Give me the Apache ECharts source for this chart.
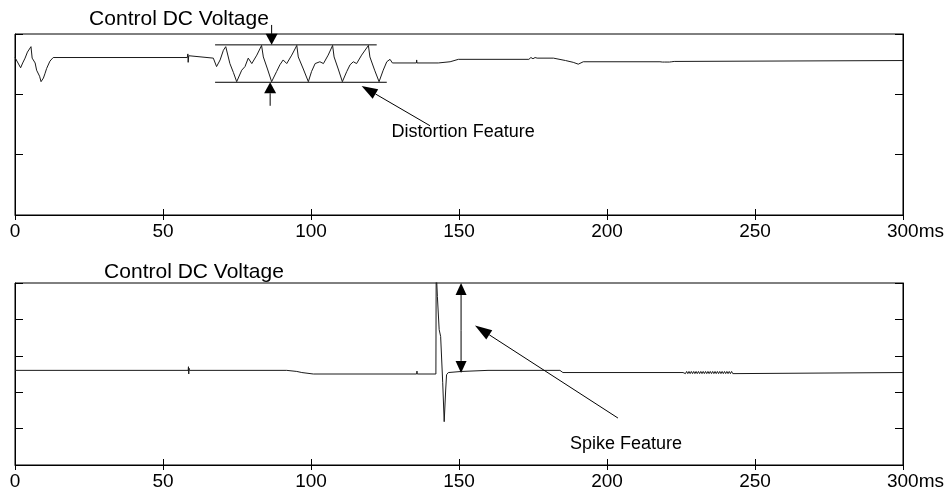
<!DOCTYPE html>
<html><head><meta charset="utf-8">
<script src="https://cdn.jsdelivr.net/npm/echarts@6/dist/echarts.min.js"></script>
<style>html,body{margin:0;padding:0;background:#fff}#c{width:947px;height:498px}</style>
</head><body><div id="c"></div>
<script>
// ---------- data ----------
const xTickLabels = ['0', '50', '100', '150', '200', '250', '300'];
const xUnit = 'ms';
const panelTitle = 'Control DC Voltage';
const topNote = 'Distortion Feature';
const bottomNote = 'Spike Feature';

const topTime = [0, 0.6, 1.9, 2.6, 3.4, 4.2, 4.8, 5.4, 5.8, 6.8, 7.3, 7.9, 8.3, 8.8, 9.6, 10.1, 10.7, 11.8, 12.9,
  58.2, 58.4, 58.5, 58.7, 58.8, 67.0,
  68.1, 69.3, 70.4, 71.2, 72.6, 73.8, 74.9,
  76.6, 77.7, 78.8, 80.0, 81.7, 83.3, 83.9, 85.3, 86.7,
  88.4, 89.5, 90.6, 91.8, 93.5, 95.2, 95.7, 97.4, 99.1,
  100.2, 101.4, 103.0, 104.2, 105.8, 107.3, 107.8, 109.2, 110.6,
  112.1, 113.2, 114.3, 115.4, 117.1, 119.4, 119.9, 121.5, 123.0,
  124.4, 125.6, 126.7, 127.5, 135.6, 135.7, 135.8, 143.0, 147.0, 149.8,
  172.3, 172.9, 173.6, 174.3, 175.0, 175.7, 176.4, 181.9, 186.0, 188.6, 190.3, 192.0,
  217.9, 218.3, 218.7, 219.1, 219.5, 219.9, 220.3, 220.7, 221.1, 221.5, 221.9, 222.3, 222.7, 223.0, 300];
const topValue = [2.61, 2.60, 2.44, 2.52, 2.60, 2.70, 2.68, 2.79, 2.60, 2.52, 2.40, 2.37, 2.30, 2.21, 2.27, 2.34, 2.43, 2.55, 2.61,
  2.61, 2.67, 2.53, 2.64, 2.61, 2.60,
  2.46, 2.57, 2.73, 2.79, 2.51, 2.36, 2.21,
  2.40, 2.46, 2.60, 2.51, 2.65, 2.81, 2.62, 2.42, 2.21,
  2.38, 2.49, 2.57, 2.51, 2.65, 2.81, 2.62, 2.42, 2.21,
  2.38, 2.51, 2.54, 2.51, 2.65, 2.81, 2.62, 2.42, 2.21,
  2.38, 2.49, 2.54, 2.51, 2.65, 2.81, 2.62, 2.40, 2.21,
  2.40, 2.54, 2.58, 2.52, 2.52, 2.57, 2.52, 2.52, 2.54, 2.58,
  2.58, 2.60, 2.58, 2.61, 2.59, 2.61, 2.60, 2.60, 2.56, 2.53, 2.50, 2.54,
  2.54, 2.555, 2.535, 2.555, 2.535, 2.555, 2.535, 2.555, 2.535, 2.555, 2.54, 2.555, 2.545, 2.56, 2.56];

const bottomTime = [0, 58.5, 58.6, 58.7, 58.8, 58.9, 91.8, 95.2, 96.9, 100.8,
  135.7, 135.8, 135.9, 142.2, 142.3, 142.5, 142.7, 143.3, 143.8, 144.5, 145.0, 145.5, 145.8, 146.4,
  150.9, 159.8, 184.1, 185.1, 225.7,
  226.1, 226.5, 226.9, 227.3, 227.7, 228.1, 228.5, 228.9, 229.3, 229.7, 230.1, 230.5, 230.9, 231.3,
  231.7, 232.1, 232.5, 232.9, 233.3, 233.7, 234.1, 234.5, 234.9, 235.3, 235.7, 236.1, 236.5, 236.9,
  237.3, 237.7, 238.1, 238.5, 238.9, 239.3, 239.7, 240.1, 240.5, 240.9, 241.3, 241.7, 242.1, 242.5, 243.0, 300];
const bottomValue = [2.60, 2.60, 2.70, 2.50, 2.66, 2.60, 2.60, 2.57, 2.54, 2.50,
  2.50, 2.58, 2.50, 2.50, 5.60, 5.00, 4.63, 3.72, 3.53, 2.26, 1.19, 2.06, 2.48, 2.54,
  2.57, 2.60, 2.60, 2.54, 2.54,
  2.57, 2.51, 2.57, 2.51, 2.57, 2.51, 2.57, 2.51, 2.57, 2.51, 2.57, 2.51, 2.57, 2.51,
  2.57, 2.51, 2.57, 2.51, 2.57, 2.51, 2.57, 2.51, 2.57, 2.51, 2.57, 2.51, 2.57, 2.51,
  2.57, 2.51, 2.57, 2.51, 2.57, 2.51, 2.57, 2.51, 2.57, 2.51, 2.57, 2.51, 2.57, 2.51, 2.54, 2.54];

// ---------- annotations (data coordinates) ----------
const topEnvelope = { upper: [[67.6, 2.82], [122.2, 2.82]], lower: [[67.6, 2.20], [125.6, 2.20]] };
const topArrows = [
  { from: [86.7, 3.15], to: [86.7, 2.82], len: 11, w: 12 },
  { from: [86.2, 1.81], to: [86.2, 2.20], len: 11, w: 12 },
  { from: [140.2, 1.48], to: [117.1, 2.14], len: 16, w: 11 }
];
const bottomArrows = [
  { from: [150.7, 3.7], to: [150.7, 5.0], len: 12, w: 11 },
  { from: [150.7, 3.7], to: [150.7, 2.53], len: 12, w: 11 },
  { from: [203.7, 1.29], to: [155.4, 3.83], len: 17, w: 11 }
];
const topNotePos = [151.4, 1.37];
const bottomNotePos = [206.4, 0.58];

// ---------- chart ----------
const FONT = "'Liberation Sans', Arial, Helvetica, sans-serif";
const chart = echarts.init(document.getElementById('c'), null, { renderer: 'canvas' });

function pairs(ts, vs) { return ts.map((t, i) => [t, vs[i]]); }

function xLabel(v) {
  const i = Math.round(v / 50);
  const s = xTickLabels[i];
  if (i === xTickLabels.length - 1) return '{p|}' + s + '{u|' + xUnit + '}';
  return s;
}
const labelRich = {
  p: { width: 25 },
  u: { fontSize: 19, color: '#000', fontFamily: FONT }
};

function xAxes(gi) {
  return [
    { gridIndex: gi, type: 'value', min: 0, max: 300, interval: 50, position: 'bottom',
      axisLine: { show: true, onZero: false, lineStyle: { color: '#000', width: 1 } },
      axisTick: { show: true, inside: true, length: 6, lineStyle: { color: '#000' } },
      axisLabel: { show: true, formatter: xLabel, rich: labelRich, fontSize: 19, color: '#000', fontFamily: FONT, margin: 7 },
      splitLine: { show: false } },
    { gridIndex: gi, type: 'value', min: 0, max: 300, interval: 50, position: 'top',
      axisLine: { show: false },
      axisTick: { show: true, inside: true, length: 5, lineStyle: { color: '#000' } },
      axisLabel: { show: false }, splitLine: { show: false } }
  ];
}
function yAxes(gi, max) {
  return [
    { gridIndex: gi, type: 'value', min: 0, max: max, interval: 1, position: 'left',
      axisLine: { show: true, onZero: false, lineStyle: { color: '#000', width: 1 } },
      axisTick: { show: true, inside: true, length: 8, lineStyle: { color: '#000' } },
      axisLabel: { show: false }, splitLine: { show: false } },
    { gridIndex: gi, type: 'value', min: 0, max: max, interval: 1, position: 'right',
      axisLine: { show: true, onZero: false, lineStyle: { color: '#000', width: 1 } },
      axisTick: { show: true, inside: true, length: 8, lineStyle: { color: '#000' } },
      axisLabel: { show: false }, splitLine: { show: false } }
  ];
}

const option = {
  animation: false,
  backgroundColor: '#fff',
  grid: [
    { left: 15, top: 34, width: 888, height: 181, show: true, borderColor: '#000', borderWidth: 1, containLabel: false },
    { left: 15, top: 283, width: 888, height: 182, show: true, borderColor: '#000', borderWidth: 1, containLabel: false }
  ],
  xAxis: xAxes(0).concat(xAxes(1)),
  yAxis: yAxes(0, 3).concat(yAxes(1, 5)),
  series: [
    { type: 'line', xAxisIndex: 0, yAxisIndex: 0, data: pairs(topTime, topValue), showSymbol: false, symbol: 'none',
      lineStyle: { color: '#1a1a1a', width: 1 }, clip: true },
    { type: 'line', xAxisIndex: 2, yAxisIndex: 2, data: pairs(bottomTime, bottomValue), showSymbol: false, symbol: 'none',
      lineStyle: { color: '#1a1a1a', width: 1 }, clip: true }
  ]
};
chart.setOption(option);

// ---------- annotation graphics ----------
function px(gi, p) { return chart.convertToPixel({ gridIndex: gi }, p); }
function lineEl(a, b, w) {
  return { type: 'line', shape: { x1: a[0], y1: a[1], x2: b[0], y2: b[1] }, style: { stroke: '#000', lineWidth: w || 1 }, z: 100 };
}
function arrowEls(gi, A) {
  const p0 = px(gi, A.from), p1 = px(gi, A.to);
  const dx = p1[0] - p0[0], dy = p1[1] - p0[1];
  const L = Math.sqrt(dx * dx + dy * dy);
  const ux = dx / L, uy = dy / L;
  const bx = p1[0] - ux * A.len, by = p1[1] - uy * A.len;
  const nx = -uy, ny = ux;
  return [
    lineEl(p0, [bx, by], 1),
    { type: 'polygon', shape: { points: [[p1[0], p1[1]], [bx + nx * A.w / 2, by + ny * A.w / 2], [bx - nx * A.w / 2, by - ny * A.w / 2]] },
      style: { fill: '#000' }, z: 100 }
  ];
}
function textEl(x, y, s, size) {
  return { type: 'text', x: x, y: y, z: 100,
    style: { text: s, font: size + 'px ' + FONT, fill: '#000', textAlign: 'center', align: 'center',
      textVerticalAlign: 'middle', verticalAlign: 'middle' } };
}

const g = [];
g.push(lineEl(px(0, topEnvelope.upper[0]), px(0, topEnvelope.upper[1]), 1));
g.push(lineEl(px(0, topEnvelope.lower[0]), px(0, topEnvelope.lower[1]), 1));
topArrows.forEach(a => arrowEls(0, a).forEach(e => g.push(e)));
bottomArrows.forEach(a => arrowEls(1, a).forEach(e => g.push(e)));
const tn = px(0, topNotePos), bn = px(1, bottomNotePos);
g.push(textEl(tn[0], tn[1], topNote, 18));
g.push(textEl(bn[0], bn[1], bottomNote, 18));
g.push(textEl(179, 19, panelTitle, 21));
g.push(textEl(194, 272, panelTitle, 21));

chart.setOption({ graphic: g });
</script>
</body></html>
